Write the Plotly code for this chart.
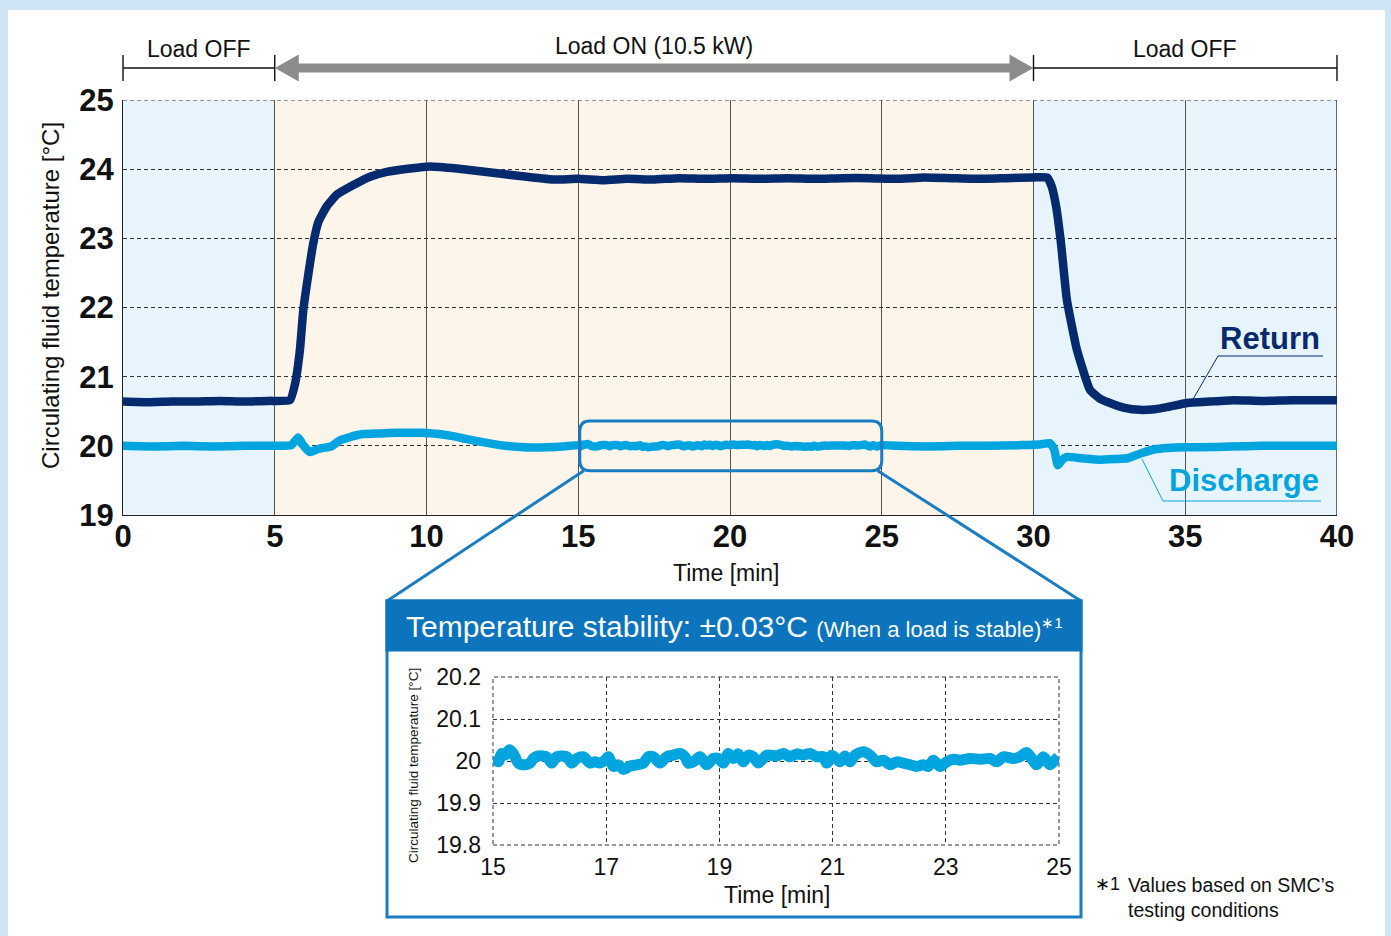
import plotly.graph_objects as go

W, H = 1391, 936

# ---------------- data ----------------
return_time = [0, 0.8, 1.6, 2.4, 3.2, 4.0, 4.8, 5.5, 5.67, 5.83, 5.94, 6.11, 6.27, 6.44, 6.71,
               7.04, 7.59, 8.14, 8.69, 9.46, 10.12, 11.0, 11.98, 13.08, 14.18, 15.0, 15.83,
               16.6, 17.47, 18.3, 19.2, 20.1, 21.0, 21.9, 22.8, 23.7, 24.6, 25.5, 26.4, 27.3,
               28.2, 29.1, 30.0, 30.45, 30.6, 30.75, 30.9, 31.1, 31.43, 31.86, 32.2, 32.52,
               33.0, 33.5, 34.0, 34.4, 35.06, 35.8, 36.6, 37.5, 38.5, 39.3, 40]
return_temp = [20.64, 20.63, 20.64, 20.64, 20.65, 20.64, 20.65, 20.66, 20.90, 21.39, 21.96, 22.49,
               22.93, 23.24, 23.46, 23.63, 23.77, 23.89, 23.96, 24.01, 24.04, 24.01, 23.96,
               23.90, 23.85, 23.86, 23.84, 23.86, 23.85, 23.87, 23.86, 23.87, 23.86, 23.87,
               23.86, 23.87, 23.87, 23.86, 23.88, 23.87, 23.86, 23.87, 23.88, 23.88, 23.75,
               23.45, 22.95, 22.11, 21.39, 20.81, 20.68, 20.62, 20.55, 20.52, 20.53, 20.56,
               20.62, 20.64, 20.66, 20.65, 20.66, 20.66, 20.66]

discharge_time_pre = [0, 1, 2, 3, 4, 5, 5.55, 5.77, 5.95, 6.16, 6.4, 6.59, 6.85, 7.15, 7.5,
                      7.91, 8.5, 9.03, 9.5, 9.88, 10.4, 10.87, 11.3, 11.76, 12.42, 13.2,
                      13.97, 14.5]
discharge_temp_pre = [20.0, 19.99, 20.0, 19.99, 20.0, 20.0, 20.01, 20.12, 20.0, 19.91, 19.95,
                      19.97, 19.99, 20.08, 20.13, 20.17, 20.18, 20.19, 20.19, 20.19, 20.17,
                      20.14, 20.1, 20.06, 20.01, 19.98, 19.98, 19.99]

# stable period, 15-25 min (drawn in the inset and in the main chart)
stable_time = [15.006, 15.094, 15.153, 15.212, 15.289, 15.359, 15.448, 15.565, 15.654, 15.713,
               15.801, 15.948, 16.037, 16.125, 16.302, 16.390, 16.478, 16.596, 16.714, 16.802,
               16.890, 16.979, 17.038, 17.126, 17.214, 17.303, 17.420, 17.538, 17.656, 17.744,
               17.833, 17.951, 18.068, 18.186, 18.304, 18.392, 18.451, 18.539, 18.657, 18.775,
               18.893, 18.981, 19.069, 19.158, 19.246, 19.334, 19.423, 19.511, 19.599, 19.688,
               19.835, 20.012, 20.130, 20.247, 20.365, 20.483, 20.601, 20.718, 20.836, 20.895,
               20.984, 21.131, 21.219, 21.307, 21.396, 21.543, 21.661, 21.779, 21.896, 22.014,
               22.132, 22.250, 22.367, 22.485, 22.603, 22.691, 22.780, 22.898, 23.015, 23.133,
               23.251, 23.428, 23.604, 23.781, 23.899, 24.016, 24.193, 24.311, 24.429, 24.517,
               24.605, 24.723, 24.841, 24.929, 24.988]
stable_temp = [20.010, 19.998, 20.018, 20.014, 20.027, 20.018, 19.995, 19.991, 19.995, 20.006,
               20.012, 20.010, 19.995, 20.010, 20.010, 19.995, 20.006, 20.010, 19.995, 19.998,
               19.995, 20.002, 20.010, 19.987, 19.991, 19.980, 19.988, 19.991, 19.995, 20.010,
               20.010, 19.995, 20.010, 20.014, 20.018, 20.010, 19.995, 19.998, 20.010, 19.991,
               20.006, 20.006, 19.995, 20.018, 20.006, 20.017, 19.998, 20.014, 20.010, 19.995,
               20.014, 20.012, 20.018, 20.010, 20.017, 20.014, 20.018, 20.010, 20.010, 19.995,
               20.014, 19.998, 20.012, 19.998, 20.014, 20.022, 20.014, 19.998, 20.002, 19.991,
               19.998, 19.995, 19.991, 19.987, 19.991, 19.987, 20.002, 19.987, 19.998, 20.004,
               20.002, 20.006, 20.004, 20.006, 19.998, 20.010, 20.006, 20.010, 20.020, 20.006,
               19.991, 20.010, 19.991, 20.002, 20.010]

discharge_time_post = [25.5, 26.5, 27.5, 28.5, 29.5, 30.2, 30.54, 30.68, 30.8, 30.95, 31.1,
                       31.6, 32.2, 32.7, 33.1, 33.6, 34.0, 34.4, 35.0, 35.5, 36.5, 37.5,
                       38.5, 39.5, 40]
discharge_temp_post = [20.0, 19.99, 20.0, 20.0, 20.01, 20.02, 20.04, 19.95, 19.72, 19.8,
                       19.84, 19.82, 19.8, 19.81, 19.82, 19.9, 19.95, 19.97, 19.98, 19.98,
                       19.99, 20.0, 20.0, 20.0, 20.0]

main_x_ticks = [0, 5, 10, 15, 20, 25, 30, 35, 40]
main_y_ticks = [19, 20, 21, 22, 23, 24, 25]
inset_x_ticks = [15, 17, 19, 21, 23, 25]
inset_y_ticks = [19.8, 19.9, 20.0, 20.1, 20.2]
inset_y_labels = ["19.8", "19.9", "20", "20.1", "20.2"]

phases = [(0, 5, "Load OFF", "off"), (5, 30, "Load ON (10.5 kW)", "on"), (30, 40, "Load OFF", "off")]
zoom_window = (15.05, 25.0, 19.64, 20.36)

# ---------------- styling ----------------
NAVY = "#062a6e"
CYAN = "#00a5e0"
BLUE = "#0b74bd"
FONT = "Liberation Sans, Arial, sans-serif"
OFF_FILL = "#e8f4fc"
ON_FILL = "#fdf5e9"

# pixel layout
MX0, MX1, MY_TOP, MY_BOT = 123, 1337, 100, 515
IX0, IX1, IY_TOP, IY_BOT = 493, 1059, 677, 845
XR, YR = (0, 40), (19, 25)


def px(p):
    return p / W


def py(p):
    return 1 - p / H


def mx(t):  # main x value -> pixel
    return MX0 + (t - XR[0]) / (XR[1] - XR[0]) * (MX1 - MX0)


def my(v):
    return MY_BOT - (v - YR[0]) / (YR[1] - YR[0]) * (MY_BOT - MY_TOP)


def label(x, y, text, size, color="#111", xanchor="center", yanchor="middle", **kw):
    d = dict(x=px(x), y=py(y), xref="paper", yref="paper", text=text, showarrow=False,
             xanchor=xanchor, yanchor=yanchor,
             font=dict(family=FONT, size=size, color=color, weight=kw.pop("weight", "normal")))
    d.update(kw)
    return d


fig = go.Figure()
fig.add_trace(go.Scatter(x=return_time, y=return_temp, mode="lines",
                         line=dict(color=NAVY, width=8.5, shape="spline", smoothing=0.4),
                         xaxis="x", yaxis="y", hoverinfo="skip"))
fig.add_trace(go.Scatter(x=discharge_time_pre + stable_time + discharge_time_post,
                         y=discharge_temp_pre + stable_temp + discharge_temp_post, mode="lines",
                         line=dict(color=CYAN, width=8.5, shape="spline", smoothing=0.4),
                         xaxis="x", yaxis="y", hoverinfo="skip"))
fig.add_trace(go.Scatter(x=stable_time, y=stable_temp, mode="lines",
                         line=dict(color=CYAN, width=11, shape="spline", smoothing=0.8),
                         xaxis="x2", yaxis="y2", hoverinfo="skip"))

shapes = []
annotations = []

# page frame
shapes.append(dict(type="rect", xref="paper", yref="paper", x0=px(8), x1=px(1385), y0=0, y1=py(10),
                   fillcolor="white", line=dict(width=0), layer="below"))

# phase shading
for a, b, _, kind in phases:
    shapes.append(dict(type="rect", xref="x", yref="y", x0=a, x1=b, y0=YR[0], y1=YR[1],
                       fillcolor=OFF_FILL if kind == "off" else ON_FILL, line=dict(width=0), layer="below"))
# borders
shapes.append(dict(type="line", xref="x", yref="y", x0=XR[1], x1=XR[1], y0=YR[0], y1=YR[1],
                   line=dict(color="#222", width=1.3), layer="below"))
shapes.append(dict(type="line", xref="x", yref="y", x0=XR[0], x1=XR[1], y0=YR[1], y1=YR[1],
                   line=dict(color="#333", width=1, dash="4px,3px"), layer="below"))

# top phase brackets / arrow
BY = 68
for a, b, text, kind in phases:
    xa, xb = mx(a), mx(b)
    if kind == "off":
        shapes.append(dict(type="line", xref="paper", yref="paper", x0=px(xa), x1=px(xb), y0=py(BY), y1=py(BY),
                           line=dict(color="#111", width=1.6)))
        for xx in (xa, xb):
            shapes.append(dict(type="line", xref="paper", yref="paper", x0=px(xx), x1=px(xx), y0=py(55), y1=py(81),
                               line=dict(color="#111", width=1.4)))
        annotations.append(label((xa + xb) / 2, 49, text, 23))
    else:
        shapes.append(dict(type="line", xref="paper", yref="paper", x0=px(xa + 20), x1=px(xb - 20), y0=py(BY), y1=py(BY),
                           line=dict(color="#8c8c8c", width=9)))
        for tip, base in ((xa, xa + 24), (xb, xb - 24)):
            shapes.append(dict(type="path", xref="paper", yref="paper",
                               path=f"M {px(tip)},{py(BY)} L {px(base)},{py(BY - 13.5)} L {px(base)},{py(BY + 13.5)} Z",
                               fillcolor="#8c8c8c", line=dict(width=0)))
        annotations.append(label((xa + xb) / 2, 46, text, 23))

# zoom window (rounded rectangle) and connectors
zx0, zx1, zy0, zy1 = zoom_window
rx, ry = 10, 10
X0, X1, Y0, Y1 = mx(zx0), mx(zx1), my(zy1), my(zy0)  # pixel (Y0 top)
path = (f"M {px(X0 + rx)},{py(Y0)} L {px(X1 - rx)},{py(Y0)} Q {px(X1)},{py(Y0)} {px(X1)},{py(Y0 + ry)} "
        f"L {px(X1)},{py(Y1 - ry)} Q {px(X1)},{py(Y1)} {px(X1 - rx)},{py(Y1)} "
        f"L {px(X0 + rx)},{py(Y1)} Q {px(X0)},{py(Y1)} {px(X0)},{py(Y1 - ry)} "
        f"L {px(X0)},{py(Y0 + ry)} Q {px(X0)},{py(Y0)} {px(X0 + rx)},{py(Y0)} Z")
shapes.append(dict(type="path", xref="paper", yref="paper", path=path, line=dict(color="#1a7cc3", width=3)))

BOX_L, BOX_R, BOX_T, BOX_B, HEAD_B = 387, 1081, 601, 917, 650
shapes.append(dict(type="line", xref="paper", yref="paper", x0=px(X0 + 4), y0=py(Y1), x1=px(BOX_L), y1=py(BOX_T),
                   line=dict(color="#1a7cc3", width=3)))
shapes.append(dict(type="line", xref="paper", yref="paper", x0=px(X1 - 4), y0=py(Y1), x1=px(BOX_R), y1=py(BOX_T),
                   line=dict(color="#1a7cc3", width=3)))

# inset box
shapes.append(dict(type="rect", xref="paper", yref="paper", x0=px(BOX_L), x1=px(BOX_R), y0=py(BOX_B), y1=py(BOX_T),
                   fillcolor="white", line=dict(color="#1a7cc3", width=3), layer="below"))
shapes.append(dict(type="rect", xref="paper", yref="paper", x0=px(BOX_L), x1=px(BOX_R), y0=py(HEAD_B), y1=py(BOX_T),
                   fillcolor=BLUE, line=dict(color=BLUE, width=3)))
shapes.append(dict(type="rect", xref="x2 domain", yref="y2 domain", x0=0, x1=1, y0=0, y1=1,
                   line=dict(color="#333", width=1, dash="4px,3px"), layer="below"))

annotations.append(label((BOX_L + BOX_R) / 2, 626,
                         "Temperature stability: ±0.03°C <span style='font-size:22px'>(When a load is stable)<sup>∗1</sup></span>",
                         30, color="white"))

# legend-like labels
annotations.append(label(1322, 338, "Return", 31, color=NAVY, xanchor="right", weight="bold"))
shapes.append(dict(type="line", xref="paper", yref="paper", x0=px(1218), x1=px(1323), y0=py(356), y1=py(356),
                   line=dict(color=NAVY, width=1)))
shapes.append(dict(type="line", xref="paper", yref="paper", x0=px(1218), x1=px(1192), y0=py(356), y1=py(401),
                   line=dict(color=NAVY, width=1)))
annotations.append(label(1321, 481, "Discharge", 31, color=CYAN, xanchor="right", weight="bold"))
shapes.append(dict(type="line", xref="paper", yref="paper", x0=px(1163), x1=px(1321), y0=py(501), y1=py(501),
                   line=dict(color=CYAN, width=1)))
shapes.append(dict(type="line", xref="paper", yref="paper", x0=px(1163), x1=px(1142), y0=py(501), y1=py(459),
                   line=dict(color=CYAN, width=1)))

# axis titles
annotations.append(label(50, 296, "Circulating fluid temperature [°C]", 24, textangle=-90))
annotations.append(label(726, 573, "Time [min]", 23))
annotations.append(label(413, 766, "Circulating fluid temperature [°C]", 13.5, textangle=-90))
annotations.append(label(777, 895, "Time [min]", 23))

# footnote
annotations.append(label(1093, 884, "∗1", 18, xanchor="left"))
annotations.append(label(1126, 872, "Values based on SMC’s<br>testing conditions", 19.5,
                         xanchor="left", yanchor="top", align="left"))

fig.update_layout(
    width=W, height=H, margin=dict(l=0, r=0, t=0, b=0, autoexpand=False),
    paper_bgcolor="#cfe5f5", plot_bgcolor="rgba(0,0,0,0)", showlegend=False,
    shapes=shapes, annotations=annotations,
    xaxis=dict(domain=[px(MX0), px(MX1)], range=list(XR), tickvals=main_x_ticks,
               showgrid=True, gridcolor="#555", gridwidth=1.2, zeroline=False,
               showline=True, linecolor="#222", linewidth=1.3, ticks="", ticklabelstandoff=-6,
               tickfont=dict(family=FONT, size=31, color="#111", weight="bold"), fixedrange=True),
    yaxis=dict(domain=[py(MY_BOT), py(MY_TOP)], range=list(YR), tickvals=main_y_ticks,
               showgrid=True, gridcolor="#333", gridwidth=1, griddash="4px,3px", zeroline=False,
               showline=True, linecolor="#222", linewidth=1.3, ticks="", ticklabelstandoff=2,
               tickfont=dict(family=FONT, size=31, color="#111", weight="bold"), fixedrange=True),
    xaxis2=dict(domain=[px(IX0), px(IX1)], range=[15, 25], tickvals=inset_x_ticks, anchor="y2",
                showgrid=True, gridcolor="#333", gridwidth=1, griddash="4px,3px", zeroline=False,
                showline=False, ticks="", ticklabelstandoff=6,
                tickfont=dict(family=FONT, size=23, color="#111"), fixedrange=True),
    yaxis2=dict(domain=[py(IY_BOT), py(IY_TOP)], range=[19.8, 20.2], tickvals=inset_y_ticks,
                ticktext=inset_y_labels, anchor="x2",
                showgrid=True, gridcolor="#333", gridwidth=1, griddash="4px,3px", zeroline=False,
                showline=False, ticks="", ticklabelstandoff=11,
                tickfont=dict(family=FONT, size=23, color="#111"), fixedrange=True),
)

fig.write_html("out.html", config={"displayModeBar": False},
               post_script="document.body.style.margin='0';document.body.style.padding='0';")
